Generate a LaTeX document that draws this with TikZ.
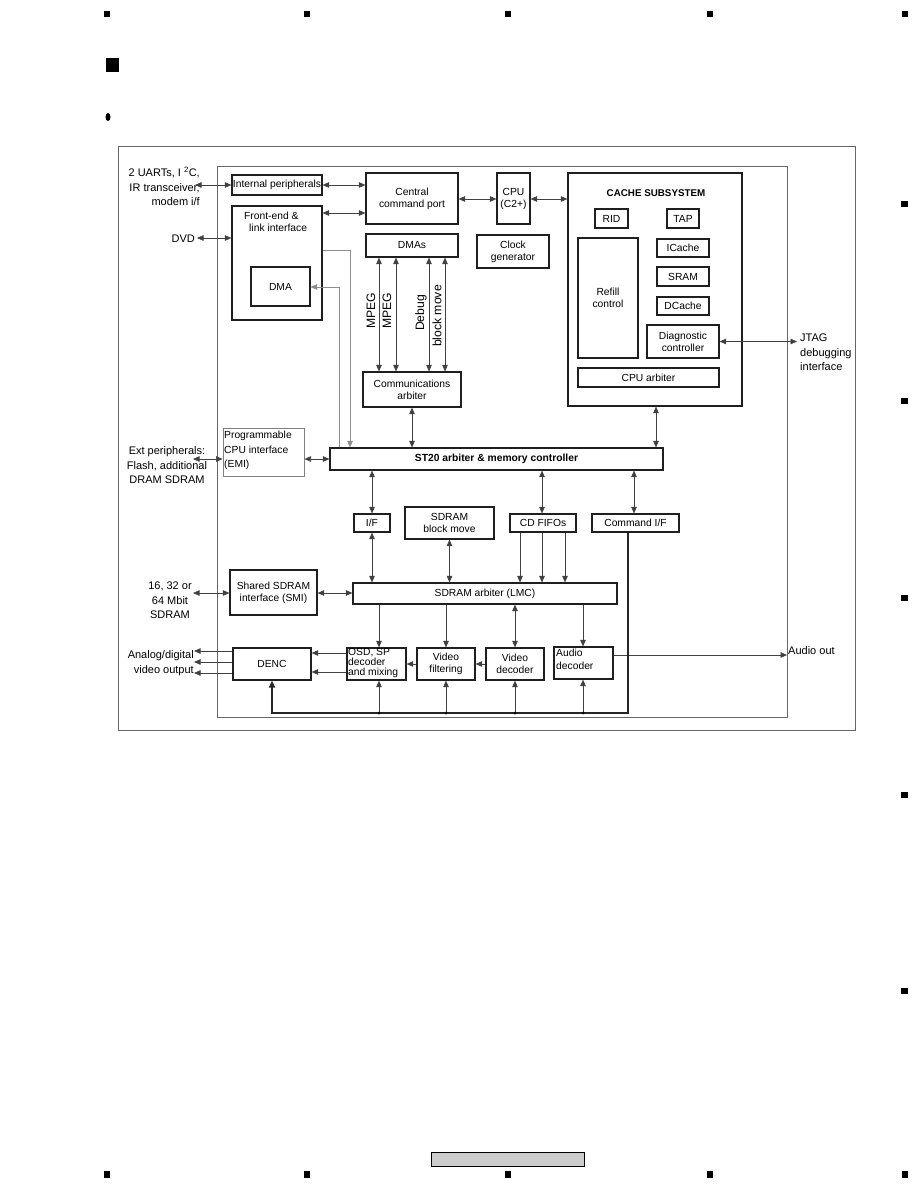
\documentclass[tikz,border=0pt]{standalone}
\usepackage{fontspec}
\setmainfont{Liberation Sans}
\usetikzlibrary{arrows.meta}
\newcommand\fs{\fontsize{10.3}{12}\selectfont}
\newcommand\fl{\fontsize{11}{14.5}\selectfont}
\newcommand\fr{\fontsize{12.2}{14}\selectfont}
\tikzset{
  bx/.style={draw=black!88, line width=1.2pt, inner sep=0pt, align=center, font=\fs},
  gbx/.style={bx, draw=black!50, line width=1pt},
  lab/.style={inner sep=0pt, font=\fl},
  mytip/.tip={Triangle[length=6.5pt,width=5.5pt]},
  ar/.style={-mytip, draw=black!75, line width=0.6pt},
  dar/.style={mytip-mytip, draw=black!75, line width=0.6pt},
  gar/.style={-mytip, draw=black!45, line width=0.6pt},
  bus/.style={draw=black!85, line width=1.6pt},
  pmark/.style={fill=black},
  jdot/.style={fill=black, circle, inner sep=0pt, minimum size=3pt}
}
% box from corner (x1,y1) to (x2,y2): [opts]{x1}{y1}{x2}{y2}{name}{text}
\newcommand\bxn[7][]{\node[bx,#1,minimum width={(#4-#2)*1pt},minimum height={(#5-#3)*1pt}] (#6) at ({(#2+#4)/2},{(#3+#5)/2}) {#7};}
\begin{document}
\begin{tikzpicture}[x=1pt,y=-1pt]
\useasboundingbox (0,0) rectangle (918,1188);
% page marks
\foreach \mx in {107,307,508,710,905}{
  \fill[pmark] (\mx-3,11) rectangle (\mx+3,17);
  \fill[pmark] (\mx-3,1171) rectangle (\mx+3,1178);}
\foreach \my in {204,401,598,795,991}{
  \fill[pmark] (901,\my-3) rectangle (908,\my+3);}
\fill[pmark] (106,58) rectangle (119,72);
\fill[pmark] (108,117) ellipse [x radius=2.5, y radius=4];
\draw[fill=black!20, line width=0.8pt] (431,1152) rectangle (584,1166);

% frames
\draw[draw=black!60, line width=0.8pt] (118,146) rectangle (855,730);
\draw[draw=black!60, line width=0.9pt] (217,166) rectangle (787,717);

% boxes
\bxn{232}{175}{322}{195}{ip}{Internal peripherals}
\bxn{232}{206}{322}{320}{fe}{}
\node[inner sep=0pt, font=\fs, align=left, anchor=north west] (fetxt) at (244,212) {Front-end \&\\\hspace{5pt}link interface};
\bxn{251}{267}{310}{306}{dma}{DMA}
\bxn{366}{173}{458}{224}{ccp}{Central\\command port}
\bxn{497}{173}{530}{224}{cpu}{CPU\\(C2+)}
\bxn{366}{234}{458}{257}{dmas}{DMAs}
\bxn{477}{235}{549}{268}{clk}{Clock\\generator}
\bxn{363}{372}{461}{407}{comm}{Communications\\arbiter}
\bxn{568}{173}{742}{406}{cache}{}
\node[inner sep=0pt, font=\fontsize{9.8}{12}\selectfont\bfseries] (ctitle) at (656,193) {CACHE SUBSYSTEM};
\bxn{595}{209}{628}{228}{rid}{RID}
\bxn{667}{209}{699}{228}{tap}{TAP}
\bxn{578}{238}{638}{358}{refill}{Refill\\control}
\bxn{657}{239}{709}{257}{icache}{ICache}
\bxn{657}{267}{709}{286}{sram}{SRAM}
\bxn{657}{297}{709}{315}{dcache}{DCache}
\bxn{647}{325}{719}{358}{diag}{Diagnostic\\controller}
\bxn{578}{368}{719}{387}{cpuarb}{CPU arbiter}
\bxn[gbx]{223}{428}{304}{476}{emi}{}
\node[inner sep=0pt, font=\fontsize{10.3}{14.5}\selectfont, align=left, anchor=north west] (emitxt) at (224,431) {Programmable\\CPU interface\\(EMI)};
\bxn[font=\fs\bfseries]{330}{448}{663}{470}{st20}{ST20 arbiter \& memory controller}
\bxn{354}{514}{390}{532}{iff}{I/F}
\bxn{405}{507}{494}{539}{sbm}{SDRAM\\block move}
\bxn{510}{514}{576}{532}{cdf}{CD FIFOs}
\bxn{592}{514}{679}{532}{cmdif}{Command I/F}
\bxn{230}{570}{317}{615}{smi}{Shared SDRAM\\interface (SMI)}
\bxn{353}{583}{617}{604}{lmc}{SDRAM arbiter (LMC)}
\bxn{233}{648}{311}{680}{denc}{DENC}
\bxn{347}{648}{406}{680}{osd}{}
\node[inner sep=0pt, font=\fontsize{10.3}{10}\selectfont, align=left, anchor=north west] (osdtxt) at (348,648) {OSD, SP\\decoder\\and mixing};
\bxn{417}{648}{475}{680}{vf}{Video\\filtering}
\bxn{486}{648}{544}{680}{vd}{Video\\decoder}
\bxn{554}{647}{613}{679}{ad}{}
\node[inner sep=0pt, font=\fontsize{10.3}{13}\selectfont, align=left, anchor=north west] (adtxt) at (556,648.5) {Audio\\decoder};

% outside labels
\node[lab, align=right, anchor=north east] (uarts) at (200,167) {2 UARTs, I \textsuperscript{2}C,\\IR transceiver,\\modem i/f};
\node[lab, anchor=east] (dvd) at (195,238.5) {DVD};
\node[lab, align=center] (ext) at (167,465.5) {Ext peripherals:\\Flash, additional\\DRAM SDRAM};
\node[lab, align=center] (sdr) at (170,600.5) {16, 32 or\\64 Mbit\\SDRAM};
\node[lab, align=right, anchor=east] (anv) at (194,663) {Analog/digital\\video output};
\node[lab, align=left, anchor=north west] (jtagtxt) at (800,334) {JTAG\\debugging\\interface};
\node[lab, anchor=west] (aouttxt) at (788,651) {Audio out};

% rotated labels
\node[inner sep=0pt, font=\fr, rotate=90] (m1) at (371,311) {MPEG};
\node[inner sep=0pt, font=\fr, rotate=90] (m2) at (387,311) {MPEG};
\node[inner sep=0pt, font=\fr, rotate=90] (dbg) at (421,313) {Debug};
\node[inner sep=0pt, font=\fr, rotate=90] (bmv) at (437,316) {block move};

% coordinates for free ends
\coordinate (uartE) at (195,185);
\coordinate (dvdE) at (197,238);
\coordinate (extE) at (193,459);
\coordinate (sdrE) at (193,593);
\coordinate (jtagE) at (797,341.5);
\coordinate (aoutE) at (787,655);
\coordinate (fek) at (350,250);
\coordinate (dmk) at (339,287);
\coordinate (bR) at (628,713);
\coordinate (bL) at (272,713);
\coordinate (b1) at (379,713);
\coordinate (b2) at (446,713);
\coordinate (b3) at (515,713);
\coordinate (b4) at (583,713);

% connectors top
\draw[dar] (uartE) -- (ip.west);
\draw[dar] (ip.east) -- (ccp.west |- ip.east);
\draw[dar] (fe.east |- 0,213) -- (ccp.west |- 0,213);
\draw[dar] (dvdE) -- (fe.west |- dvdE);
\draw[dar] (ccp.east |- 0,199) -- (cpu.west |- 0,199);
\draw[dar] (cpu.east |- 0,199) -- (cache.west |- 0,199);
\foreach \cx in {379,396,429,445}{
  \draw[dar] (dmas.south -| \cx,0) -- (comm.north -| \cx,0);}
\draw[dar] (comm.south -| 412,0) -- (st20.north -| 412,0);
\draw[dar] (cache.south -| 656,0) -- (st20.north -| 656,0);
\draw[dar] (diag.east) -- (jtagE);
\draw[gar] (fe.east |- fek) -- (fek) -- (st20.north -| fek);
\draw[gar] (st20.north -| dmk) -- (dmk) -- (dma.east |- dmk);

% EMI
\draw[dar] (extE) -- (emi.west |- extE);
\draw[dar] (emi.east |- 0,459) -- (st20.west |- 0,459);

% ST20 down
\draw[dar] (st20.south -| iff.north) -- (iff.north);
\draw[dar] (st20.south -| 542,0) -- (cdf.north -| 542,0);
\draw[dar] (st20.south -| 634,0) -- (cmdif.north -| 634,0);
\draw[dar] (iff.south) -- (lmc.north -| iff.south);
\draw[dar] (sbm.south) -- (lmc.north -| sbm.south);
\foreach \cx in {520,542,565}{
  \draw[ar] (cdf.south -| \cx,0) -- (lmc.north -| \cx,0);}
\draw[dar] (smi.east |- 0,593) -- (lmc.west |- 0,593);
\draw[dar] (sdrE) -- (smi.west |- sdrE);

% LMC down
\draw[ar] (lmc.south -| 379,0) -- (osd.north -| 379,0);
\draw[ar] (lmc.south -| 446,0) -- (vf.north -| 446,0);
\draw[dar] (lmc.south -| 515,0) -- (vd.north -| 515,0);
\draw[ar] (lmc.south -| 583,0) -- (ad.north -| 583,0);

% bottom row
\draw[ar] (vd.west |- 0,664) -- (vf.east |- 0,664);
\draw[ar] (vf.west |- 0,664) -- (osd.east |- 0,664);
\draw[ar] (osd.west |- 0,653) -- (denc.east |- 0,653);
\draw[ar] (osd.west |- 0,672) -- (denc.east |- 0,672);
\foreach \cy in {651,662,673}{
  \draw[ar] (denc.west |- 0,\cy) -- (194,\cy);}
\draw[ar] (ad.east |- aoutE) -- (aoutE);

% bus
\draw[bus, -{Triangle[length=7pt,width=6pt]}] (cmdif.south -| bR) -- (bR) -- (bL) -- (denc.south -| bL);
\draw[ar] (b1) -- (osd.south -| b1);
\draw[ar] (b2) -- (vf.south -| b2);
\draw[ar] (b3) -- (vd.south -| b3);
\draw[ar] (b4) -- (ad.south -| b4);
\foreach \b in {b1,b2,b3,b4}{ \node[jdot] at (\b) {}; }
\end{tikzpicture}
\end{document}
